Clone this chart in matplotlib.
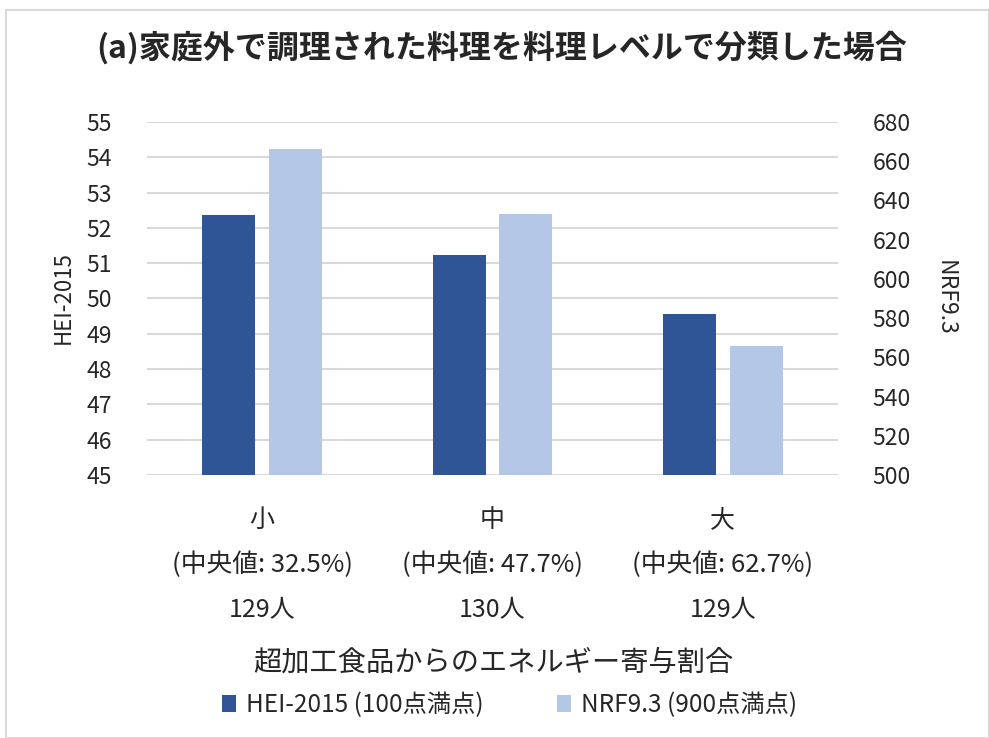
import numpy as np
import matplotlib.pyplot as plt
from matplotlib.patches import Rectangle
from matplotlib.transforms import blended_transform_factory

plt.rcParams['font.family'] = ['Noto Sans CJK JP', 'DejaVu Sans']

categories = ['小', '中', '大']
medians = ['32.5%', '47.7%', '62.7%']
counts = ['129人', '130人', '129人']
hei = [52.37, 51.23, 49.56]
nrf = [666.4, 633.1, 565.8]

title = '(a)家庭外で調理された料理を料理レベルで分類した場合'
xlabel = '超加工食品からのエネルギー寄与割合'
hei_label = 'HEI-2015 (100点満点)'
nrf_label = 'NRF9.3 (900点満点)'

dark = '#2F5597'
light = '#B4C7E7'
txt = '#262626'

fig = plt.figure(figsize=(9.89, 7.38), dpi=100)
fig.patches.append(Rectangle((0.006, 0.0), 0.994, 0.986, transform=fig.transFigure,
                             fill=False, edgecolor='#D9D9D9', linewidth=1.5))

ax = fig.add_axes([147/989, 1-475/738, 691/989, 353/738])
ax2 = ax.twinx()

x = np.arange(len(categories))
w = 0.23
off = 0.145
b1 = ax.bar(x - off, hei, w, color=dark, label=hei_label, zorder=3)
b2 = ax2.bar(x + off, nrf, w, color=light, label=nrf_label, zorder=3)

ax.set_xlim(-0.5, 2.5)
ax.set_ylim(45, 55)
ax.set_yticks(np.arange(45, 56, 1))
ax2.set_ylim(500, 680)
ax2.set_yticks(np.arange(500, 681, 20))
ax.yaxis.grid(True, color='#D9D9D9', linewidth=1.5)
ax.set_axisbelow(True)

for a in (ax, ax2):
    for s in a.spines.values():
        s.set_visible(False)
    a.tick_params(length=0, labelsize=16.5, colors=txt)
ax.tick_params(axis='y', pad=25)
ax2.tick_params(axis='y', pad=25)
ax.set_xticks([])

# category labels, three rows under each group
tr = blended_transform_factory(ax.transData, fig.transFigure)
for xi, c, m, n in zip(x, categories, medians, counts):
    ax.text(xi, 1-520/738, c, transform=tr, ha='center', va='center', fontsize=18, color=txt)
    ax.text(xi, 1-565/738, f'(中央値: {m})', transform=tr, ha='center', va='center', fontsize=18.5, color=txt)
    ax.text(xi, 1-610/738, n, transform=tr, ha='center', va='center', fontsize=18, color=txt)

fig.text(63/989, 1-298/738, 'HEI-2015', rotation=90, ha='center', va='center', fontsize=16, color=txt)
fig.text(945/989, 1-298/738, 'NRF9.3', rotation=270, ha='center', va='center', fontsize=16.5, color=txt)

fig.text(0.507, 1-48/738, title, ha='center', va='center', fontsize=23, fontweight='bold', color=txt)
fig.text(0.499, 1-663/738, xlabel, ha='center', va='center', fontsize=20.3, color=txt)

fig.legend([b1, b2], [hei_label, nrf_label], loc='center', bbox_to_anchor=(0.515, 1-705/738),
           ncol=2, frameon=False, fontsize=17.5, handlelength=0.6, handleheight=0.7,
           columnspacing=3.0, handletextpad=0.4, labelcolor=txt)

fig.savefig('out.png', dpi=100)
